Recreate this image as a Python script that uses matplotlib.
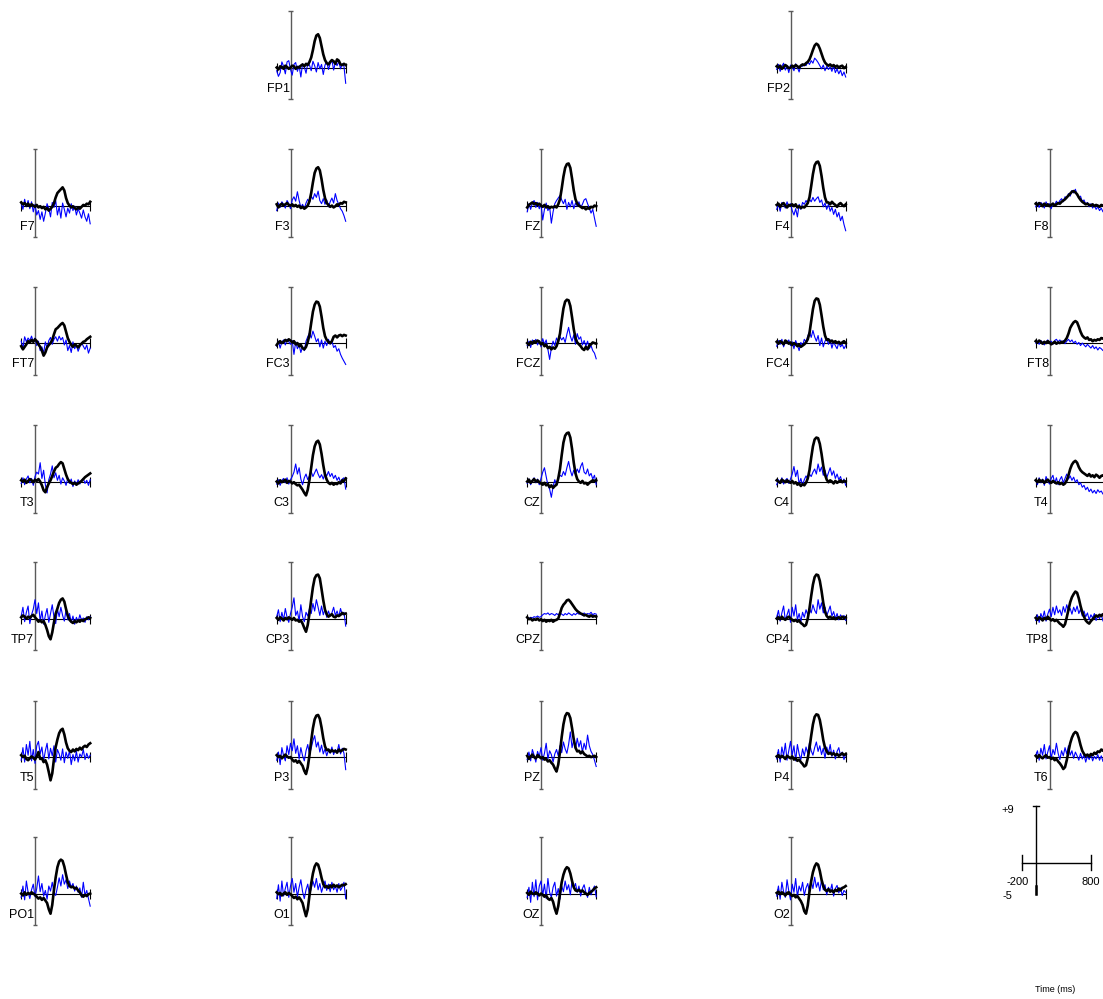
import matplotlib
matplotlib.use("Agg")
import matplotlib.pyplot as plt

# ---------------- data ----------------
times = list(range(-200, 801, 25))  # ms, 41 samples

fp1_black = [0.0, -0.3, 0.2, 0.1, -0.2, 0.3, 0.1, -0.2, 0.0, 0.3, 0.2, -0.2, 0.1, 0.0, 0.3, 0.5, 0.2, 0.6, 0.4, 0.9, 1.6, 2.8, 4.2, 5.1, 5.3, 4.7, 3.4, 2.1, 1.2, 0.7, 0.5, 0.9, 1.2, 1.0, 0.6, 1.3, 1.1, 0.5, 0.4, 0.6, 0.4]
fp1_blue = [-0.5, -1.4, -0.8, 0.9, 0.2, -1.0, 0.9, 1.1, -0.3, -1.2, 0.5, 0.8, -0.6, 0.3, -1.5, 0.6, 0.1, -0.9, 0.7, 0.4, -0.5, 1.0, 0.3, -0.7, 0.8, -0.2, 0.5, -1.1, 0.4, 0.9, -0.3, 0.6, 1.2, -0.4, 0.8, 0.3, 1.0, -0.2, 0.6, 0.2, -2.5]
fp2_black = [0.2, 0.0, 0.3, -0.2, 0.1, 0.4, 0.2, -0.1, 0.0, 0.3, 0.1, 0.4, 0.2, 0.0, 0.3, 0.5, 0.4, 0.7, 0.9, 1.3, 2.0, 2.8, 3.5, 3.8, 3.6, 3.0, 2.2, 1.4, 0.8, 0.5, 0.3, 0.5, 0.2, 0.4, 0.1, 0.3, 0.0, 0.2, 0.3, -0.1, 0.1]
fp2_blue = [-0.3, 0.5, -0.6, 0.2, 0.7, -0.4, 0.3, -0.8, 0.4, 0.1, -0.5, 0.6, 0.0, -0.7, 0.4, 0.2, 0.6, 0.3, 0.9, 0.5, 1.1, 0.7, 1.5, 1.2, 0.8, 0.3, -0.2, 0.4, -0.5, 0.2, -0.3, 0.1, -0.6, 0.3, -0.8, -0.2, -1.0, -0.4, -1.3, -0.7, -1.5]

f7_black = [0.5, 0.2, 0.4, 0.0, 0.3, -0.1, 0.2, 0.0, -0.2, 0.1, -0.3, -0.1, -0.4, -0.2, -0.6, -0.4, -0.8, -0.5, -0.2, 0.4, 1.3, 2.0, 2.3, 2.6, 2.9, 2.4, 1.2, 0.4, 0.0, -0.3, -0.1, -0.4, -0.6, -0.3, -0.5, -0.2, 0.1, 0.0, 0.3, 0.2, 0.6]
f7_blue = [0.3, -0.6, 1.0, -0.2, 0.8, -0.5, 0.6, -1.0, 0.2, -1.5, -0.8, -2.2, -1.0, -2.5, -1.2, 0.3, -0.5, -1.8, 0.5, -0.3, 0.8, -1.5, -0.2, -2.0, 0.4, -0.6, -1.8, -0.4, -1.2, 0.3, -0.8, -0.1, -1.5, -0.5, -1.2, -2.0, -0.7, -1.8, -2.5, -1.3, -2.9]
f3_black = [0.2, -0.3, 0.1, 0.3, 0.0, 0.2, 0.4, 0.1, 0.0, 0.2, -0.1, 0.1, -0.2, 0.0, -0.4, -0.2, -0.5, -0.3, 0.0, 0.7, 2.0, 3.7, 5.2, 5.9, 6.1, 5.6, 4.2, 2.5, 1.2, 0.4, 0.1, -0.2, 0.0, -0.3, -0.1, 0.2, 0.1, 0.4, 0.3, 0.6, 0.5]
f3_blue = [-0.8, 0.4, -0.3, 0.6, 0.2, -0.4, 0.8, 0.3, -0.5, 0.9, 1.4, 0.7, 2.2, 0.8, -0.3, 0.2, -0.5, 0.4, 1.0, 0.5, 1.5, 1.0, 1.9, 1.3, 2.3, 0.8, 0.3, 1.1, 0.2, 0.9, -0.2, 0.6, 1.2, 0.4, 1.9, 0.8, 0.2, -0.5, -0.9, -1.6, -2.5]
fz_black = [-0.3, 0.1, 0.3, 0.5, 0.2, 0.4, 0.1, 0.3, 0.0, -0.2, 0.1, -0.3, -0.1, -0.4, -0.2, -0.3, -0.1, -0.3, 0.2, 1.0, 2.7, 4.6, 6.0, 6.6, 6.7, 6.0, 4.3, 2.4, 1.0, 0.3, 0.0, -0.2, -0.4, -0.3, -0.6, -0.4, -0.5, -0.2, -0.3, 0.0, -0.1]
fz_blue = [-1.0, 0.3, -0.6, 0.4, 0.8, -0.3, 0.5, -0.5, 0.2, -2.3, -0.6, 0.4, -0.8, -0.2, -2.8, -1.0, 0.3, 0.8, 1.2, 1.6, 0.9, 0.3, 1.0, -0.6, 0.5, -0.2, 0.8, -0.5, 0.4, -0.1, 0.6, -0.3, 0.2, 0.9, 1.1, 0.3, -0.4, -1.2, -0.6, -2.0, -3.3]
f4_black = [0.1, 0.3, -0.2, 0.2, 0.4, 0.0, -0.3, 0.1, 0.0, 0.2, -0.1, 0.2, -0.3, -0.1, -0.4, -0.2, -0.3, 0.0, 0.4, 1.3, 3.1, 5.0, 6.4, 6.9, 7.0, 6.3, 4.7, 2.8, 1.3, 0.5, 0.5, 0.2, 0.6, 0.3, 0.1, -0.2, 0.2, 0.4, 0.1, -0.1, 0.2]
f4_blue = [-0.6, 0.3, -0.9, 0.5, 0.1, -0.4, 0.6, -0.2, 0.3, -0.8, -1.5, -0.5, -1.8, 0.2, -0.6, 0.5, 0.2, 0.8, 0.4, 1.0, 0.6, 1.3, 0.7, 1.1, 1.4, 0.5, 0.9, -0.2, 0.4, -0.6, 0.2, -0.9, -0.3, -1.4, -0.6, -1.8, -1.1, -2.4, -1.7, -3.0, -4.0]
f8_black = [0.3, 0.1, 0.4, 0.2, -0.1, 0.3, 0.0, 0.2, -0.1, 0.1, 0.3, 0.0, 0.2, 0.4, 0.3, 0.6, 0.8, 1.0, 1.3, 1.6, 1.9, 2.2, 2.3, 2.1, 1.8, 1.3, 0.9, 0.6, 0.4, 0.2, 0.3, 0.1, 0.0, 0.2, -0.1, 0.1, 0.0, -0.2, 0.1, 0.0, -0.1]
f8_blue = [-0.2, 0.4, -0.3, 0.5, 0.2, -0.4, 0.6, 0.0, 0.3, -0.5, 0.4, 0.1, 0.7, 0.2, 0.8, 1.1, 0.6, 1.4, 1.2, 1.9, 1.5, 2.4, 2.0, 2.6, 1.7, 1.2, 1.5, 0.6, 0.9, 0.2, 0.5, -0.2, 0.3, -0.4, 0.1, -0.6, -0.2, -0.8, -0.4, -1.0, -0.7]

ft7_black = [-0.5, -1.0, -0.6, -0.2, 0.3, 0.1, 0.5, 0.2, 0.6, 0.3, -0.2, -0.6, -1.2, -2.0, -1.5, -0.7, -0.3, 0.0, 0.5, 1.4, 2.2, 2.4, 2.7, 3.0, 3.2, 2.8, 1.8, 0.8, 0.2, -0.3, -0.6, -0.2, -0.4, -0.7, -0.3, -0.1, 0.2, 0.3, 0.6, 0.8, 1.0]
ft7_blue = [0.3, -0.8, 1.0, 0.2, 0.8, 0.4, 1.1, 0.2, 0.8, -0.4, 0.3, -1.2, -0.6, -1.6, 0.2, -0.8, 0.4, 0.9, -0.2, 0.6, 1.0, 0.3, 1.1, 0.5, 0.9, -0.3, 0.5, -1.2, -0.4, -1.5, 0.2, -0.9, -0.3, -1.3, -0.6, 0.1, -0.5, -1.0, -0.3, -1.6, -0.8]
fc3_black = [-0.3, 0.1, 0.3, 0.0, 0.2, 0.5, 0.3, 0.6, 0.4, 0.1, 0.3, -0.2, 0.0, -0.5, -0.3, -0.8, -1.0, -0.6, 0.2, 1.3, 3.2, 5.0, 6.1, 6.6, 6.5, 5.8, 4.2, 2.4, 1.1, 0.5, 0.2, 0.0, 0.3, 1.0, 1.2, 0.9, 1.2, 1.3, 1.1, 1.3, 1.2]
fc3_blue = [-0.5, 0.3, -0.8, 0.2, 0.5, -0.3, 0.6, 0.2, -0.2, 0.4, -1.8, 0.2, -0.9, -0.3, -1.5, -0.6, -1.2, 0.3, 1.0, 1.6, 0.8, 1.9, 1.1, 0.2, 0.7, -0.6, 0.5, -0.8, 0.3, -0.4, 0.6, -0.2, 0.3, -0.7, -0.4, -1.3, -0.9, -1.8, -2.4, -2.9, -3.4]
fcz_black = [0.0, -0.3, 0.2, -0.1, 0.3, 0.1, 0.4, 0.2, -0.2, 0.0, -0.5, -0.3, -0.8, -0.6, -1.0, -0.7, -0.9, -0.5, 0.3, 1.5, 3.6, 5.5, 6.6, 6.9, 6.8, 5.9, 4.1, 2.2, 0.8, 0.1, -0.2, -0.5, -0.9, -1.1, -0.6, -1.0, -0.4, -0.2, 0.1, 0.0, -0.1]
fcz_blue = [-0.4, 0.3, -0.7, 0.5, 0.1, 0.6, -0.3, 0.4, -0.6, 0.7, -0.2, 0.5, -1.0, -2.6, -0.8, 0.3, -0.4, 0.8, 0.2, 1.0, 0.5, 0.9, 0.1, 1.4, 2.5, 1.1, 0.3, 1.3, -0.2, 1.5, 0.6, 1.0, -0.3, 0.4, -0.5, 0.3, -0.9, -0.4, -1.2, -1.6, -2.5]
fc4_black = [0.2, -0.1, 0.3, 0.1, -0.2, 0.4, 0.2, -0.1, 0.1, -0.3, 0.0, -0.2, -0.5, -0.3, -0.6, -0.4, -0.2, 0.1, 0.6, 1.6, 3.5, 5.4, 6.7, 7.1, 7.0, 6.1, 4.4, 2.6, 1.2, 0.5, 0.6, 0.2, 0.4, 0.1, 0.3, 0.0, 0.2, -0.1, 0.1, 0.3, 0.0]
fc4_blue = [-0.5, 0.4, -0.2, 0.6, -0.6, 0.3, 0.0, 0.5, -0.4, 0.2, -0.9, 0.4, -0.3, -1.2, 0.1, -0.5, 0.6, 0.2, 1.1, 1.8, 0.9, 2.0, 1.0, 0.3, 1.2, -0.4, 0.8, -0.6, 0.3, 0.7, -0.2, 0.5, -0.8, 0.2, -0.4, -0.9, 0.1, -0.6, -0.2, -0.9, -0.4]
ft8_black = [0.3, 0.1, 0.4, 0.2, -0.1, 0.2, 0.0, 0.3, 0.1, -0.2, 0.0, 0.2, -0.1, 0.1, 0.0, 0.2, 0.1, 0.4, 0.8, 1.5, 2.4, 2.9, 3.3, 3.5, 3.3, 2.6, 1.8, 1.2, 0.9, 0.7, 0.9, 0.5, 0.6, 0.3, 0.5, 0.4, 0.6, 0.5, 0.8, 0.7, 0.9]
ft8_blue = [0.0, 0.3, -0.2, 0.4, 0.1, -0.3, 0.2, 0.5, 0.0, 0.3, -0.2, 0.4, 0.6, 0.2, 0.5, 0.1, 0.4, -0.1, 0.3, 0.6, 0.2, 0.5, 0.0, 0.3, -0.2, 0.1, -0.4, 0.0, -0.3, -0.6, -0.2, -0.5, -0.8, -0.4, -0.9, -0.6, -1.1, -0.7, -0.9, -1.2, -0.8]

t3_black = [0.2, 0.0, 0.3, -0.2, 0.1, 0.4, 0.2, -0.1, 0.3, 0.1, 0.4, 0.0, -0.6, -1.4, -1.7, -0.9, -0.3, 0.2, 0.9, 1.6, 2.2, 2.4, 2.8, 3.1, 2.9, 2.0, 1.1, 0.4, 0.0, -0.2, -0.4, -0.2, -0.5, -0.3, -0.1, 0.1, 0.4, 0.7, 0.9, 1.1, 1.3]
t3_blue = [-0.3, 0.6, -0.5, 0.4, 0.9, -0.2, 0.5, -0.6, 0.8, 1.5, 1.2, 3.0, 0.5, 1.8, -0.5, -1.8, 0.3, 1.2, 2.5, 0.6, 1.4, 0.2, 1.0, -0.4, 0.6, 0.1, -0.6, 0.5, -0.3, 0.4, -0.8, 0.1, -0.5, 0.3, -0.4, 0.2, 0.5, -0.3, 0.2, -0.6, 0.3]
c3_black = [0.0, -0.3, 0.2, -0.1, 0.1, 0.3, -0.2, 0.1, 0.0, -0.3, -0.1, -0.4, -0.6, -0.5, -0.9, -1.3, -1.8, -2.2, -1.3, 0.3, 2.2, 4.2, 5.6, 6.3, 6.5, 5.9, 4.4, 2.6, 1.1, 0.3, -0.2, -0.4, -0.2, -0.5, -0.3, -0.4, -0.1, -0.3, 0.2, 0.1, 0.5]
c3_blue = [-0.4, 0.3, -0.6, 0.2, 0.5, -0.2, 0.6, -0.4, 0.3, 0.8, 1.5, 2.8, 1.2, 2.2, 0.4, -0.5, 0.6, 1.2, 0.3, 0.9, 1.6, 0.8, 1.4, 2.0, 1.2, 0.6, 1.1, 0.4, 1.3, 0.9, 1.6, 0.8, 1.3, 0.5, 1.0, 0.2, 0.7, -0.1, 0.4, 0.6, -1.2]
cz_black = [0.0, 0.3, -0.2, 0.1, 0.4, 0.0, 0.2, -0.1, -0.3, -0.5, -0.2, -0.6, -0.4, -0.9, -0.6, -1.0, -0.7, -0.5, 0.5, 2.0, 4.2, 6.2, 7.3, 7.7, 7.8, 7.0, 5.2, 3.0, 1.3, 0.4, 0.0, -0.2, 0.1, -0.3, -0.2, -0.5, -0.2, 0.0, 0.2, 0.1, 0.2]
cz_blue = [-0.3, 0.4, -0.5, 0.2, 0.6, -0.2, 0.4, -0.5, 0.5, 1.5, 2.2, 0.8, -0.6, -1.2, -2.5, -0.8, 0.3, -0.5, 0.6, 1.0, 0.8, 1.6, 1.0, 2.2, 3.2, 1.8, 0.9, 1.8, 1.2, 2.0, 1.4, 2.4, 3.0, 1.5, 1.2, 2.0, 0.9, 1.3, 0.4, 1.0, -0.5]
c4_black = [0.2, 0.0, -0.2, 0.3, 0.1, -0.1, 0.2, 0.0, -0.2, 0.1, -0.3, -0.1, -0.5, -0.3, -0.7, -0.4, -0.6, -0.2, 0.5, 1.8, 3.8, 5.6, 6.7, 7.0, 6.9, 6.0, 4.4, 2.5, 1.1, 0.3, -0.1, 0.2, 0.0, -0.3, 0.1, -0.2, 0.0, 0.2, -0.1, 0.1, 0.0]
c4_blue = [-0.5, 0.3, -0.2, 0.6, -0.4, 0.2, 0.5, -0.3, 0.4, 1.2, 2.4, 0.8, 1.8, -0.4, 0.5, -0.6, 0.3, 0.9, 0.4, 1.2, 0.8, 1.5, 2.0, 1.2, 2.8, 1.6, 2.3, 1.0, 1.8, 0.6, 1.4, 2.2, 1.0, 1.7, 0.5, 1.2, 0.3, 0.8, -0.2, 0.4, -0.6]
t4_black = [0.2, -0.1, 0.3, 0.0, 0.2, -0.2, 0.1, 0.3, 0.0, -0.2, 0.1, -0.1, -0.3, -0.1, -0.4, -0.2, -0.5, -0.3, 0.2, 1.0, 2.0, 2.7, 3.1, 3.3, 3.0, 2.3, 1.8, 1.5, 1.3, 1.1, 0.9, 1.2, 0.8, 1.0, 0.7, 1.1, 0.9, 0.6, 0.9, 1.0, 0.8]
t4_blue = [0.3, -0.5, 0.6, -0.2, 0.4, -0.6, 0.8, 0.1, -0.4, 0.5, 1.0, -0.3, 0.6, -0.5, 0.3, 0.8, -0.2, 0.5, 1.2, 0.4, 0.9, 0.2, 0.7, -0.1, 0.3, -0.5, -0.2, -0.9, -0.6, -1.3, -0.9, -1.6, -1.2, -1.8, -1.4, -1.9, -1.3, -1.7, -1.5, -2.0, -1.6]

tp7_black = [0.2, 0.5, 0.3, 0.0, 0.3, 0.1, 0.4, 0.6, 0.2, -0.1, -0.5, -0.3, -0.6, -0.4, -1.0, -1.8, -2.8, -3.3, -2.2, -0.6, 0.8, 1.6, 2.5, 3.0, 3.2, 2.7, 1.5, 0.5, -0.2, -0.5, -0.7, -0.4, -0.6, -0.3, -0.5, -0.2, -0.4, -0.1, 0.0, 0.2, 0.1]
tp7_blue = [0.4, 1.8, -0.5, 1.0, 2.0, -0.8, 0.6, 1.5, 3.0, 0.8, 2.5, -0.4, 1.2, -0.9, 0.5, 1.6, -0.6, 0.8, 2.2, 0.2, -0.8, 1.5, 0.3, 1.8, 0.5, -0.4, 1.4, -0.2, 0.8, -0.6, 0.4, -0.9, 0.2, -0.5, 0.6, -0.3, 0.1, -0.6, 0.3, -0.2, 0.3]
cp3_black = [0.1, -0.2, 0.2, 0.0, -0.3, 0.1, -0.1, 0.2, 0.0, -0.2, 0.1, -0.3, -0.2, -0.5, -0.3, -0.8, -1.5, -2.1, -1.0, 0.8, 3.0, 5.0, 6.4, 6.9, 7.0, 6.4, 4.7, 2.9, 1.4, 0.7, 0.3, 0.5, 0.7, 0.3, 0.2, 0.5, 0.4, 0.6, 0.9, 0.7, 0.8]
cp3_blue = [0.3, 1.4, -0.5, 1.0, -0.2, 1.6, 0.2, -0.6, 0.8, 1.8, 3.3, 0.5, 1.2, -0.4, 2.2, 0.3, -0.5, 1.0, 0.4, 1.6, 0.8, 2.4, 1.2, 3.0, 1.8, 0.5, 2.0, 0.6, 1.5, 0.2, 1.2, 0.4, 0.9, 1.8, 0.5, 1.2, 0.3, 1.6, 0.6, 1.0, -1.2]
cpz_black = [0.2, -0.1, 0.0, -0.3, -0.1, -0.2, 0.0, -0.3, -0.1, -0.4, -0.2, -0.5, -0.3, -0.4, -0.2, -0.5, -0.3, -0.2, 0.0, 0.8, 1.7, 2.2, 2.5, 2.9, 3.0, 2.7, 2.3, 1.9, 1.5, 1.2, 1.0, 0.8, 0.7, 0.5, 0.6, 0.4, 0.3, 0.5, 0.3, 0.4, 0.3]
cpz_blue = [0.1, 0.0, 0.2, 0.1, 0.3, 0.2, 0.4, 0.2, 0.3, 0.6, 0.8, 0.7, 0.9, 0.6, 0.8, 0.7, 0.5, 0.8, 0.6, 0.9, 0.7, 0.5, 0.8, 0.6, 0.9, 0.7, 0.5, 0.8, 0.6, 0.9, 0.7, 0.8, 0.5, 0.9, 0.6, 0.8, 0.7, 1.0, 0.6, 0.8, 0.7]
cp4_black = [0.0, 0.2, -0.1, 0.3, 0.0, -0.2, 0.1, 0.3, 0.0, -0.2, -0.4, -0.2, -0.5, -0.3, -0.7, -0.9, -1.2, -1.0, 0.0, 1.6, 3.6, 5.4, 6.6, 7.0, 6.9, 6.0, 4.4, 2.5, 1.1, 0.4, 0.1, 0.3, 0.0, 0.2, -0.1, 0.1, 0.2, 0.0, 0.3, 0.1, 0.2]
cp4_blue = [0.2, 1.3, -0.4, 0.9, 2.0, -0.3, 0.6, 1.5, -0.6, 1.8, 0.4, 2.2, -0.2, 0.8, -0.5, 1.0, 0.2, 1.4, 0.6, 1.6, 0.9, 2.2, 1.3, 0.8, 3.0, 1.5, 2.5, 0.9, 1.8, 0.5, 1.2, 2.0, 0.4, 1.1, 0.0, 0.8, -0.2, 0.6, 0.1, 0.5, -0.3]
tp8_black = [0.1, -0.2, 0.2, 0.0, -0.3, 0.1, -0.1, 0.3, 0.0, -0.3, -0.1, -0.4, -0.2, -0.5, -0.8, -1.0, -1.3, -0.9, 0.2, 1.4, 2.6, 3.4, 3.9, 4.3, 4.1, 3.2, 2.0, 1.0, 0.3, -0.3, -0.6, -0.8, -0.4, -0.1, 0.2, 0.5, 0.3, 0.6, 0.4, 0.7, 0.5]
tp8_blue = [-0.3, 0.6, -0.6, 0.8, 0.0, 1.2, -0.4, 0.7, 1.5, 0.3, 1.8, 0.6, 2.0, 0.9, 1.4, 0.5, 1.9, 1.0, 2.2, 1.2, 1.6, 0.7, 1.8, 1.1, 2.0, 0.8, 1.5, 0.4, 1.2, 0.3, 0.9, -0.2, 0.6, 0.1, 0.8, -0.3, 0.5, 0.0, 0.7, -0.4, 0.2]

t5_black = [0.3, 0.0, 0.2, -0.3, -0.5, -0.2, 0.1, -0.1, -0.4, 0.1, 0.8, -0.3, -0.2, -0.8, -0.5, -1.2, -2.4, -3.7, -2.6, -0.3, 1.6, 2.8, 3.8, 4.3, 4.5, 3.6, 2.3, 1.4, 1.0, 0.8, 1.2, 0.9, 1.3, 1.1, 1.5, 1.2, 1.6, 1.8, 1.6, 2.0, 2.2]
t5_blue = [-0.5, 1.5, -0.8, 2.0, 0.3, 2.5, -0.6, 1.2, -1.0, 1.8, 2.5, 0.5, 1.6, -0.6, 1.0, 2.2, -0.3, 1.4, 0.2, 1.8, -0.8, 1.2, 0.5, -0.5, 1.3, -0.9, 0.8, -0.2, 1.0, -1.2, 0.4, -0.6, 0.9, -0.8, 0.5, 0.0, 1.2, -0.4, 0.6, -0.2, 0.3]
p3_black = [0.3, 0.0, 0.2, -0.2, 0.1, 0.4, 0.1, -0.1, 0.0, -0.4, -0.7, -0.5, -0.9, -0.6, -1.0, -1.4, -2.2, -2.7, -1.6, 0.3, 2.6, 4.6, 6.0, 6.6, 6.7, 6.1, 4.7, 3.0, 1.7, 1.1, 1.2, 0.8, 1.1, 0.9, 1.0, 0.7, 1.2, 0.9, 1.1, 1.3, 1.2]
p3_blue = [-0.5, 0.8, -1.2, 1.5, 0.2, -0.6, 1.8, 0.4, 2.2, 1.0, 2.9, 0.6, 1.8, -0.3, 1.5, 0.2, -0.6, 1.0, 2.0, 0.4, 1.4, 2.6, 3.4, 1.6, 2.4, 0.8, 1.9, 0.5, 1.3, 0.2, 1.1, 0.6, 1.6, 0.4, 1.2, 0.8, 2.0, 0.5, 1.4, 0.6, -2.0]
pz_black = [0.2, -0.3, 0.1, 0.4, 0.0, -0.2, 0.3, 0.1, -0.2, 0.0, -0.4, -0.3, -0.7, -0.5, -0.9, -1.2, -1.8, -2.3, -1.2, 0.8, 3.2, 5.2, 6.5, 7.0, 6.9, 6.2, 4.6, 2.8, 1.5, 0.9, 1.0, 0.6, 0.9, 0.5, 0.3, 0.1, 0.2, 0.0, 0.1, 0.2, 0.0]
pz_blue = [-0.4, 0.8, -0.6, 1.2, 0.3, -0.8, 0.9, 0.1, 1.5, -0.5, 0.6, 2.2, -0.3, 1.0, 0.4, -0.8, 0.5, 1.2, 0.2, 1.8, 0.7, 2.4, 1.3, 0.6, 2.0, 4.0, 1.5, 2.8, 1.2, 3.0, 1.6, 2.6, 0.8, 2.2, 1.2, 3.5, 1.8, 0.9, 0.4, -0.5, -1.5]
p4_black = [0.1, 0.3, -0.1, 0.2, 0.0, -0.3, 0.2, 0.0, -0.2, 0.1, -0.4, -0.2, -0.6, -0.4, -0.8, -1.1, -1.5, -1.3, -0.2, 1.4, 3.4, 5.2, 6.4, 6.8, 6.7, 5.9, 4.4, 2.7, 1.5, 0.9, 0.5, 0.7, 0.4, 0.6, 0.3, 0.5, 0.2, 0.4, 0.6, 0.3, 0.5]
p4_blue = [-0.3, 1.2, -0.8, 1.6, 0.2, 2.2, -0.5, 1.0, 2.5, 0.3, 1.8, -0.6, 2.0, 0.5, -0.4, 1.3, 0.2, 1.6, 0.6, 2.3, 1.0, 0.3, 1.5, 2.4, 0.9, 1.8, 0.4, 1.4, -0.2, 1.6, 0.6, 2.0, 0.1, 1.1, -0.3, 0.9, 1.5, 0.2, 0.8, -0.4, 0.4]
t6_black = [0.2, -0.1, 0.3, 0.0, -0.2, 0.1, 0.3, -0.1, 0.0, -0.3, -0.1, -0.5, -0.3, -0.7, -1.0, -1.4, -1.9, -1.6, -0.5, 0.9, 2.2, 3.1, 3.7, 4.0, 3.8, 3.0, 1.9, 1.0, 0.5, 0.2, 0.4, 0.1, 0.5, 0.3, 0.7, 0.5, 0.9, 0.8, 1.2, 1.0, 1.4]
t6_blue = [0.2, 1.0, -0.5, 1.4, 0.3, 2.0, -0.3, 0.8, 1.8, -0.2, 1.2, 0.4, 2.2, 0.6, -0.4, 1.0, 0.2, 1.5, 0.5, 1.8, 0.3, 1.0, -0.2, 0.8, 0.2, -0.5, 0.6, -0.3, 0.4, -0.8, 0.2, -0.4, 0.5, -0.6, 0.1, -0.3, 0.4, -0.5, 0.2, -0.7, 0.0]

po1_black = [0.0, -0.3, 0.2, -0.2, 0.1, -0.1, 0.2, 0.0, -0.2, -0.5, -0.8, -0.6, -1.0, -0.7, -1.1, -1.5, -2.5, -3.2, -1.8, 0.6, 2.6, 4.2, 5.1, 5.4, 5.2, 4.3, 3.0, 1.8, 1.2, 1.0, 1.1, 0.8, 0.9, 0.5, 0.2, -0.3, -0.5, -0.2, -0.4, -0.1, 0.0]
po1_blue = [-0.6, 1.2, -1.0, 2.0, 0.2, -0.8, 0.6, 1.5, -0.5, 0.8, 2.8, 0.3, 1.6, -0.4, 0.5, -0.9, 1.2, 0.4, 1.8, 0.2, -0.3, 1.0, 2.5, 1.2, 3.0, 1.5, 2.2, 0.8, 2.0, 1.0, 1.6, 0.4, 1.2, 0.2, 0.9, -0.6, 1.8, -0.3, 0.5, -0.8, -2.0]
o1_black = [0.2, -0.1, 0.1, -0.3, 0.0, 0.2, -0.2, 0.1, -0.1, -0.4, -0.7, -0.5, -0.9, -0.6, -1.0, -1.5, -2.6, -3.6, -2.5, -0.3, 1.6, 3.2, 4.3, 4.8, 4.6, 3.7, 2.5, 1.5, 1.0, 1.2, 0.9, 1.3, 1.0, 1.4, 1.1, 1.3, 1.0, 1.2, 1.4, 1.3, 1.5]
o1_blue = [-0.8, 1.4, -1.2, 2.0, -0.4, 0.8, 1.8, -0.6, 1.2, 2.4, 0.2, 1.6, -0.5, 1.0, 2.2, 0.3, -0.8, 0.6, 1.5, -0.2, 0.8, 2.0, 1.0, 2.4, 0.6, 1.6, 0.2, 1.2, 2.0, 0.5, 1.5, 0.3, 1.8, 0.6, 1.2, 0.2, 1.6, 0.5, 1.0, 1.8, -0.8]
oz_black = [0.1, -0.2, 0.3, 0.0, -0.1, 0.2, 0.0, -0.3, 0.0, -0.2, -0.5, -0.3, -0.8, -1.0, -0.7, -1.3, -2.4, -3.2, -2.0, 0.0, 1.8, 3.0, 3.8, 4.2, 4.0, 3.2, 2.0, 1.0, 0.5, 0.4, 0.6, 0.3, 0.5, 0.2, 0.0, -0.2, 0.1, 0.3, 0.5, 0.8, 1.0]
oz_blue = [-0.6, 1.0, -1.4, 1.8, -0.5, 2.2, -1.0, 1.2, 2.0, -0.3, 1.5, -0.8, 2.4, 0.2, -0.6, 1.0, 1.8, -0.4, 0.8, -0.9, 1.2, 0.3, 2.0, 0.6, 1.4, -0.2, 2.0, 0.8, 1.6, 0.2, 1.2, -0.4, 0.8, 1.4, 0.2, -0.6, 1.0, -0.2, 0.6, 1.2, -0.5]
o2_black = [0.1, 0.3, -0.1, 0.2, 0.0, -0.3, 0.1, 0.2, -0.1, -0.4, -0.2, -0.6, -0.4, -0.8, -1.2, -1.8, -2.8, -3.2, -1.9, 0.3, 2.0, 3.4, 4.3, 4.8, 4.6, 3.6, 2.2, 1.2, 0.6, 0.4, 0.7, 0.3, 0.5, 0.2, 0.6, 0.4, 0.8, 0.5, 0.9, 1.0, 1.2]
o2_blue = [-0.4, 1.2, -0.9, 1.8, 0.3, -0.6, 2.2, 0.4, -1.0, 1.5, 0.2, 2.4, -0.5, 1.2, 0.4, 1.8, -0.3, 0.9, 1.6, 0.2, 2.0, 0.8, 2.6, 1.0, 1.8, 0.4, 2.2, 0.6, 1.4, -0.2, 1.0, 0.3, 1.5, -0.4, 0.8, 1.3, 0.1, 0.9, -0.3, 0.5, 0.2]

channel_names = ['FP1', 'FP2', 'F7', 'F3', 'FZ', 'F4', 'F8', 'FT7', 'FC3', 'FCZ', 'FC4', 'FT8',
                 'T3', 'C3', 'CZ', 'C4', 'T4', 'TP7', 'CP3', 'CPZ', 'CP4', 'TP8',
                 'T5', 'P3', 'PZ', 'P4', 'T6', 'PO1', 'O1', 'OZ', 'O2']

ylim_labels = ['+9', '-5']
xlim_labels = ['-200', '800']
y_range = (-5, 9)
x_range = (-200, 800)
xlabel_text = 'Time (ms)'

black_data = {n: globals()[n.lower() + '_black'] for n in channel_names}
blue_data = {n: globals()[n.lower() + '_blue'] for n in channel_names}
bad = [n for n in channel_names if len(black_data[n]) != len(times) or len(blue_data[n]) != len(times)]
if bad:
    raise ValueError('bad lengths: ' + ', '.join(f"{n}:{len(black_data[n])}/{len(blue_data[n])}" for n in bad))

# ---------------- layout ----------------
W, H = 1103, 999
fig = plt.figure(figsize=(W / 100, H / 100), dpi=100)
fig.patch.set_facecolor('white')

grid = {'FP1': (1, 0), 'FP2': (3, 0),
        'F7': (0, 1), 'F3': (1, 1), 'FZ': (2, 1), 'F4': (3, 1), 'F8': (4, 1),
        'FT7': (0, 2), 'FC3': (1, 2), 'FCZ': (2, 2), 'FC4': (3, 2), 'FT8': (4, 2),
        'T3': (0, 3), 'C3': (1, 3), 'CZ': (2, 3), 'C4': (3, 3), 'T4': (4, 3),
        'TP7': (0, 4), 'CP3': (1, 4), 'CPZ': (2, 4), 'CP4': (3, 4), 'TP8': (4, 4),
        'T5': (0, 5), 'P3': (1, 5), 'PZ': (2, 5), 'P4': (3, 5), 'T6': (4, 5),
        'PO1': (0, 6), 'O1': (1, 6), 'OZ': (2, 6), 'O2': (3, 6)}
col_x = [35.0, 290.5, 541.0, 790.5, 1049.5]     # pixel x of time zero
row_top = [11.0, 149.0, 286.5, 425.0, 562.0, 700.5, 837.0]  # pixel y of +9
AX_W = 69.0   # px for 1000 ms
AX_H = 88.0   # px for 14 uV

FONT = ['Liberation Sans Narrow', 'Liberation Sans', 'DejaVu Sans']


def make_axes(x0, ytop):
    left = x0 - AX_W * (0 - x_range[0]) / (x_range[1] - x_range[0])
    ax = fig.add_axes([left / W, 1 - (ytop + AX_H) / H, AX_W / W, AX_H / H])
    ax.set_xlim(*x_range)
    ax.set_ylim(*y_range)
    ax.axis('off')
    return ax


def draw_frame(ax, vcolor='#5a5a5a'):
    kw = dict(clip_on=False, solid_capstyle='butt')
    ax.plot([x_range[0], x_range[1]], [0, 0], color='black', lw=0.8, zorder=1, **kw)
    for xe in x_range:
        ax.plot([xe, xe], [-0.8, 0.8], color='black', lw=0.8, zorder=1, **kw)
    ax.plot([0, 0], [y_range[0], y_range[1]], color=vcolor, lw=1.0, zorder=1, **kw)
    for ye in y_range:
        ax.plot([-35, 35], [ye, ye], color=vcolor, lw=1.0, zorder=1, **kw)


for name in channel_names:
    c, r = grid[name]
    ax = make_axes(col_x[c], row_top[r])
    draw_frame(ax)
    ax.plot(times, blue_data[name], color='#0000ff', lw=0.8, zorder=2, clip_on=False)
    ax.plot(times, black_data[name], color='black', lw=1.9, zorder=3, clip_on=False,
            solid_joinstyle='round')
    ax.text(-12, -3.4, name, ha='right', va='center', fontsize=9, family=FONT,
            color='black', zorder=4)

# scale axes
sax = make_axes(1036.0, 806.0)
sax.plot([x_range[0], x_range[1]], [0, 0], color='black', lw=1.0, clip_on=False)
for xe in x_range:
    sax.plot([xe, xe], [-1.2, 1.2], color='black', lw=1.0, clip_on=False)
sax.plot([0, 0], [y_range[0], y_range[1]], color='black', lw=1.0, clip_on=False)
sax.plot([-40, 40], [y_range[1], y_range[1]], color='black', lw=1.0, clip_on=False)
sax.plot([0, 0], [y_range[0], y_range[0] + 1.2], color='black', lw=1.8, clip_on=False)
sax.text(-410, 8.3, ylim_labels[0], ha='center', va='center', fontsize=8, family=FONT)
sax.text(-420, -5.3, ylim_labels[1], ha='center', va='center', fontsize=8, family=FONT)
sax.text(-260, -3.1, xlim_labels[0], ha='center', va='center', fontsize=8, family=FONT)
sax.text(790, -3.1, xlim_labels[1], ha='center', va='center', fontsize=8, family=FONT)

fig.text(1055 / W, 1 - 990 / H, xlabel_text, ha='center', va='center', fontsize=6.5, family=FONT)

fig.savefig('out.png', dpi=100, facecolor='white')
